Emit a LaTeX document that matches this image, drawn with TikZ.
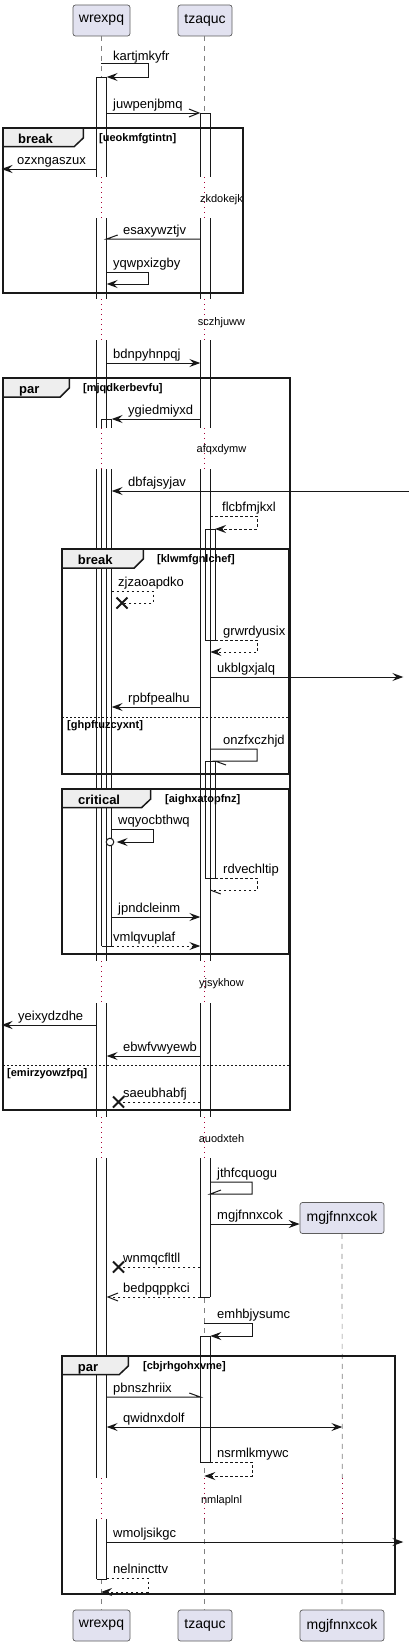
\documentclass[tikz,border=0pt]{standalone}
\usepackage{fontspec}
\setmainfont{Liberation Sans}
\usetikzlibrary{arrows.meta}
\definecolor{partfill}{HTML}{E2E2F0}
\definecolor{partline}{HTML}{181818}
\definecolor{delayc}{HTML}{A80036}
\definecolor{tabfill}{HTML}{EEEEEE}
\definecolor{lifec}{HTML}{808080}
\tikzset{
  part/.style={draw=partline!70, fill=partfill, rounded corners=2.5pt, line width=0.7pt,
    minimum height=31pt, inner sep=0pt, font=\fontsize{14}{16}\selectfont},
  life/.style={draw=lifec, line width=0.7pt, dash pattern=on 5pt off 5pt},
  delayln/.style={draw=delayc, line width=1pt, dash pattern=on 1pt off 4pt},
  barln/.style={draw=partline, line width=1pt},
  msg/.style={draw=partline, line width=1pt},
  dmsg/.style={msg, dash pattern=on 2.5pt off 2.5pt},
  fa/.style={-{Stealth[length=11pt,width=8pt,inset=4pt]}},
  fab/.style={{Stealth[length=11pt,width=8pt,inset=4pt]}-{Stealth[length=11pt,width=8pt,inset=4pt]}},
  oa/.style={-{Straight Barb[length=10pt,width=8pt]}},
  lbl/.style={anchor=base west, inner sep=0pt, font=\fontsize{13}{15}\selectfont},
  dtxt/.style={anchor=base, inner sep=0pt, font=\fontsize{11}{13}\selectfont},
  frm/.style={draw=black!90, line width=1.5pt},
  tabtxt/.style={anchor=base west, inner sep=0pt, font=\bfseries\fontsize{13}{15}\selectfont},
  cond/.style={anchor=base west, inner sep=0pt, font=\bfseries\fontsize{11}{13}\selectfont},
  elsel/.style={draw=partline, line width=1pt, dash pattern=on 2pt off 2pt},
  lostx/.style={draw=partline, line width=1.8pt},
}
\newcommand\abfill[4]{\fill[white] (#1,#3) rectangle (#2,#4);}
\newcommand\abside[4]{\draw[barln] (#1,#3) -- (#1,#4) (#2,#3) -- (#2,#4);}
\newcommand\abcap[3]{\draw[barln] (#1,#3) -- (#2,#3);}
\newcommand\xmark[2]{\draw[lostx] (#1-5.5,#2-5.5) -- (#1+5.5,#2+5.5) (#1-5.5,#2+5.5) -- (#1+5.5,#2-5.5);}
\newcommand\tabshape[4]{\draw[frm, fill=tabfill] (#1,#2) -- (#3,#2) -- (#3,#2+10) -- (#3-9,#2+#4) -- (#1,#2+#4) -- cycle;}
\begin{document}
\begin{tikzpicture}[x=1pt,y=-1pt]
\useasboundingbox (0,0) rectangle (409,1646);
\fill[white] (0,0) rectangle (409,1646);

% participants
\node[part, minimum width=57pt] (pw) at (101.5,20.5) {wrexpq};
\node[part, minimum width=54pt] (pt) at (205,20.5) {tzaquc};
\node[part, minimum width=84pt] (pm) at (342,1218) {mgjfnnxcok};
\node[part, minimum width=57pt] (pwb) at (101.5,1625.5) {wrexpq};
\node[part, minimum width=54pt] (ptb) at (205,1625.5) {tzaquc};
\node[part, minimum width=84pt] (pmb) at (342,1625.5) {mgjfnnxcok};

% lifelines
\foreach \a/\b in {36/177,218/299,340/428,469/961,1003/1117,1158/1478,1519/1610} {
  \draw[life] (101,\a) -- (101,\b);
  \draw[life] (204.3,\a) -- (204.3,\b);
}
\foreach \a/\b in {177/218,299/340,428/469,961/1003,1117/1158,1478/1519} {
  \draw[delayln] (101,\a) -- (101,\b);
  \draw[delayln] (204.3,\a) -- (204.3,\b);
}
\draw[life] (pm.south) -- (342.3,1478);
\draw[delayln] (342.3,1478) -- (342.3,1519);
\draw[life] (342.3,1519) -- (pmb.north);

% activation fills
\foreach \a/\b in {77/177,218/299,340/428,469/961,1003/1117,1158/1478,1519/1579} {\abfill{96.7}{106.7}{\a}{\b}}
\foreach \a/\b in {419/428,469/946} {\abfill{101.7}{111.7}{\a}{\b}}
\foreach \a/\b in {113/177,218/299,340/428,469/961,1003/1117,1158/1297} {\abfill{200.3}{210.3}{\a}{\b}}
\abfill{205}{215}{529}{640}
\abfill{205}{215}{761}{878}
\abfill{200.3}{210.3}{1336}{1462}
% activation outlines
\foreach \a/\b in {77/177,218/299,340/428,469/961,1003/1117,1158/1478,1519/1579} {\abside{96.7}{106.7}{\a}{\b}}
\abcap{96.7}{106.7}{77} \abcap{96.7}{106.7}{1579}
\foreach \a/\b in {419/428,469/946} {\abside{101.7}{111.7}{\a}{\b}}
\abcap{101.7}{111.7}{419} \abcap{101.7}{111.7}{946}
\foreach \a/\b in {113/177,218/299,340/428,469/961,1003/1117,1158/1297} {\abside{200.3}{210.3}{\a}{\b}}
\abcap{200.3}{210.3}{113} \abcap{200.3}{210.3}{1297}
\draw[barln] (205,529) rectangle (215,640);
\draw[barln] (205,761) rectangle (215,878);
\draw[barln] (200.3,1336) rectangle (210.3,1462);

% delay texts
\node[dtxt] (d1) at (221.5,202) {zkdokejk};
\node[dtxt] (d2) at (221.5,325) {sczhjuww};
\node[dtxt] (d3) at (221.5,452) {afqxdymw};
\node[dtxt] (d4) at (221.5,986) {yjsykhow};
\node[dtxt] (d5) at (221.5,1142) {auodxteh};
\node[dtxt] (d6) at (221.5,1503) {nmlaplnl};

% frames
\draw[frm] (3,128) rectangle (243,293);
\tabshape{3}{128}{83.3}{18.5}
\node[tabtxt] (f1) at (18,143) {break};
\node[cond] (c1) at (99,141.5) {[ueokmfgtintn]};

\draw[frm] (3,378) rectangle (290,1110);
\tabshape{3}{378}{69.3}{19}
\node[tabtxt] (f2) at (19,393) {par};
\node[cond] (c2) at (83,391.5) {[mjqdkerbevfu]};
\draw[elsel] (3,1065) -- (290,1065);
\node[cond] (c2e) at (7,1076) {[emirzyowzfpq]};

\draw[frm] (62,549) rectangle (289,774);
\tabshape{62}{549}{143.3}{19}
\node[tabtxt] (f3) at (77.7,564) {break};
\node[cond] (c3) at (157,562.5) {[klwmfgnlchef]};
\draw[elsel] (62,717) -- (289,717);
\node[cond] (c3e) at (67,728) {[ghpftuzcyxnt]};

\draw[frm] (62,789) rectangle (289,954);
\tabshape{62}{789}{150.7}{18.5}
\node[tabtxt] (f4) at (78,804) {critical};
\node[cond] (c4) at (165,802.5) {[aighxatopfnz]};

\draw[frm] (62,1356) rectangle (395,1594);
\tabshape{62}{1356}{128.3}{18.5}
\node[tabtxt] (f5) at (77.7,1371) {par};
\node[cond] (c5) at (143,1369.5) {[cbjrhgohxvme]};

% messages
\draw[msg,fa] (101,64) -- (148,64) -- (148,77) -- (106.7,77);
\node[lbl] (m1) at (113,60) {kartjmkyfr};
\draw[msg,oa] (106.7,113) -- (200.3,113);
\node[lbl] (m2) at (113,108.5) {juwpenjbmq};
\draw[msg,fa] (96.7,169) -- (1.5,169);
\node[lbl] (m3) at (17,164.5) {ozxngaszux};
\draw[msg] (200.3,239) -- (106.7,239) -- (117.7,235);
\node[lbl] (m4) at (123,234.5) {esaxywztjv};
\draw[msg,fa] (106.7,272) -- (148,272) -- (148,284) -- (106.7,284);
\node[lbl] (m5) at (113,267.5) {yqwpxizgby};
\draw[msg,fa] (106.7,363) -- (200.3,363);
\node[lbl] (m6) at (113,358.5) {bdnpyhnpqj};
\draw[msg,fa] (200.3,419) -- (111.7,419);
\node[lbl] (m7) at (128,414.5) {ygiedmiyxd};
\draw[msg,fa] (409,491) -- (111.7,491);
\node[lbl] (m8) at (128,486.5) {dbfajsyjav};
\draw[dmsg,fa] (210.3,516) -- (257,516) -- (257,529) -- (215,529);
\node[lbl] (m9) at (222,511.5) {flcbfmjkxl};
\draw[dmsg] (111.7,591) -- (153,591) -- (153,603) -- (122,603);
\xmark{122}{603}
\node[lbl] (m10) at (118,586.5) {zjzaoapdko};
\draw[dmsg,fa] (215,640) -- (257,640) -- (257,652) -- (210.3,652);
\node[lbl] (m11) at (223,635.5) {grwrdyusix};
\draw[msg,fa] (210.3,677) -- (403.3,677);
\node[lbl] (m12) at (217,672.5) {ukblgxjalq};
\draw[msg,fa] (200.3,707) -- (111.7,707);
\node[lbl] (m13) at (128,702.5) {rpbfpealhu};
\draw[msg] (210.3,749) -- (257,749) -- (257,761) -- (215,761) -- (226,765);
\node[lbl] (m14) at (223,744.5) {onzfxczhjd};
\draw[msg,fa] (111.7,829) -- (153,829) -- (153,842) -- (116.7,842);
\draw[msg,fill=white] (110,842) circle[radius=3.8pt];
\node[lbl] (m15) at (118,824.5) {wqyocbthwq};
\draw[dmsg] (215,878) -- (257,878) -- (257,890) -- (210.3,890);
\draw[msg] (210.3,890) -- (220.8,894);
\node[lbl] (m16) at (223,873.5) {rdvechltip};
\draw[msg,fa] (111.7,917) -- (200.3,917);
\node[lbl] (m17) at (118,912.5) {jpndcleinm};
\draw[dmsg,fa] (111.7,946) -- (200.3,946);
\node[lbl] (m18) at (113,941.5) {vmlqvuplaf};
\draw[msg,fa] (96.7,1025) -- (1.5,1025);
\node[lbl] (m19) at (18,1020.5) {yeixydzdhe};
\draw[msg,fa] (200.3,1056) -- (106.7,1056);
\node[lbl] (m20) at (123,1051.5) {ebwfvwyewb};
\draw[dmsg] (200.3,1102) -- (118.5,1102);
\xmark{118.5}{1102}
\node[lbl] (m21) at (123,1097.5) {saeubhabfj};
\draw[msg] (210.3,1182) -- (252,1182) -- (252,1194) -- (210.3,1194) -- (221,1190);
\node[lbl] (m22) at (217,1177.5) {jthfcquogu};
\draw[msg,fa] (210.3,1224) -- (pm.west |- 0,1224);
\node[lbl] (m23) at (217,1219.5) {mgjfnnxcok};
\draw[dmsg] (200.3,1267) -- (118.5,1267);
\xmark{118.5}{1267}
\node[lbl] (m24) at (123,1262.5) {wnmqcfltll};
\draw[dmsg,oa] (200.3,1297) -- (106.7,1297);
\node[lbl] (m25) at (123,1292.5) {bedpqppkci};
\draw[msg,fa] (204.3,1323) -- (252,1323) -- (252,1336) -- (210.3,1336);
\node[lbl] (m26) at (217,1318.5) {emhbjysumc};
\draw[msg] (106.7,1397) -- (200.3,1397) -- (189.3,1393);
\node[lbl] (m27) at (113,1392.5) {pbnszhriix};
\draw[msg,fab] (106.7,1427) -- (342.3,1427);
\node[lbl] (m28) at (123,1422.5) {qwidnxdolf};
\draw[dmsg,fa] (210.3,1462) -- (252,1462) -- (252,1476) -- (204.3,1476);
\node[lbl] (m29) at (217,1457.5) {nsrmlkmywc};
\draw[msg,fa] (106.7,1542) -- (403.3,1542);
\node[lbl] (m30) at (113,1537.5) {wmoljsikgc};
\draw[dmsg,fa] (106.7,1578) -- (148,1578) -- (148,1592) -- (101,1592);
\node[lbl] (m31) at (113,1573.5) {nelnincttv};
\end{tikzpicture}
\end{document}
